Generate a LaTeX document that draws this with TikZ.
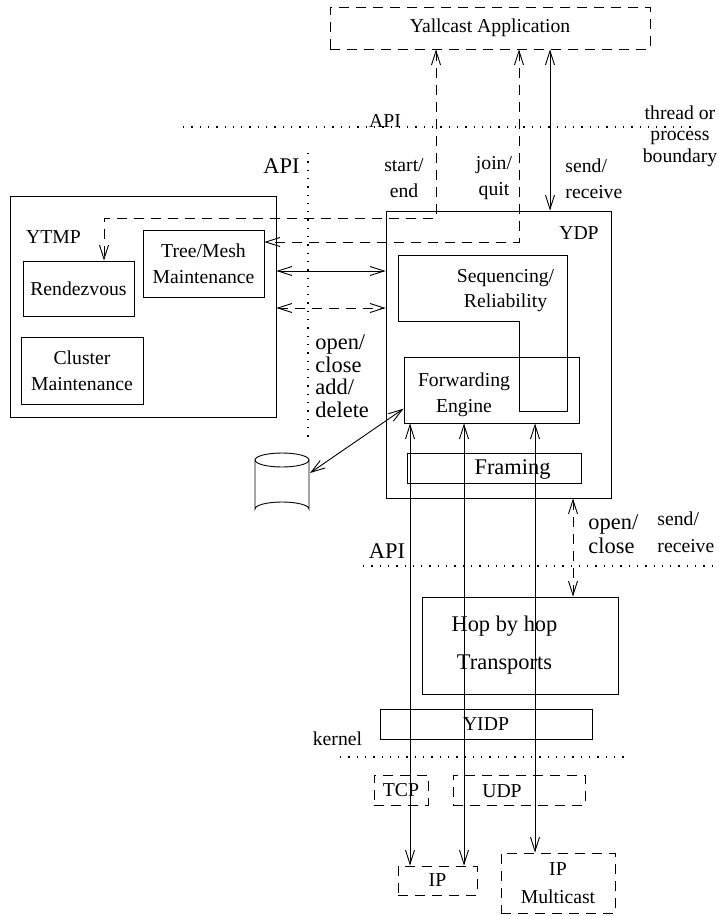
\documentclass[tikz,border=0pt]{standalone}
\usepackage{fontspec}
\setmainfont{Liberation Serif}
\usetikzlibrary{arrows.meta,positioning}
\newcommand{\nsize}{\fontsize{19.7}{26}\selectfont}
\newcommand{\lsize}{\fontsize{22.4}{24}\selectfont}

\begin{document}
\begin{tikzpicture}[x=1pt,y=-1pt,line width=0.9pt,
    >={Straight Barb[length=14pt,width=9pt]},
    every node/.style={font=\nsize,align=center},
    box/.style={draw,inner sep=0pt},
    dbox/.style={draw,inner sep=0pt,dash pattern=on 10pt off 7pt},
    dline/.style={dash pattern=on 10pt off 7pt},
    dots/.style={line width=1.3pt,dash pattern=on 1.3pt off 7pt},
    big/.style={font=\lsize}]
    \useasboundingbox (0,0) rectangle (719,916);

    \node[dbox,minimum width=320pt,minimum height=42pt] (app) at (490,28) {Yallcast Application};

    \node[box,minimum width=266pt,minimum height=221pt] (ytmp) at (143,306.5) {};
    \node at (53.5,237.5) {YTMP};
    \node[box,minimum width=121pt,minimum height=67pt] (tm) at (203.5,263.5) {Tree/Mesh\\Maintenance};
    \node[box,minimum width=111pt,minimum height=55pt] (rv) at (78.5,288.5) {Rendezvous};
    \node[box,minimum width=122pt,minimum height=67pt] (cm) at (82,370.5) {Cluster\\Maintenance};

    \node[box,minimum width=225pt,minimum height=287pt] (ydp) at (498.5,354.5) {};
    \node at (579,233) {YDP};
    \draw (398,255) -- (567,255) -- (567,411) -- (519,411) -- (519,321) -- (398,321) -- cycle;
    \node[font=\fontsize{19.7}{25}\selectfont] at (505.5,291) {Sequencing/\\Reliability};
    \node[box,minimum width=175pt,minimum height=66pt] (fe) at (491.5,390) {};
    \node at (464,394.5) {Forwarding\\Engine};
    \node[box,minimum width=174pt,minimum height=30pt] (fr) at (494,468) {};
    \node[big] at (512.5,469) {Framing};

    \node[box,minimum width=196pt,minimum height=97pt] (hop) at (520,645.5) {};
    \node[font=\fontsize{22.4}{38}\selectfont] at (504.5,645.5) {Hop by hop\\Transports};
    \node[box,minimum width=212pt,minimum height=30pt] (yidp) at (486,724) {YIDP};

    \node[dbox,minimum width=54pt,minimum height=30pt] (tcp) at (401,790) {TCP};
    \node[dbox,minimum width=132pt,minimum height=30pt] (udp) at (519,790) {};
    \node at (502,791.5) {UDP};
    \node[dbox,minimum width=79pt,minimum height=29pt] (ip) at (437.5,880.5) {IP};
    \node[dbox,minimum width=114pt,minimum height=60pt,font=\fontsize{19.7}{28}\selectfont] (ipm) at (558,883) {IP\\Multicast};

    \draw (255,460) -- (255,509) arc[start angle=180,end angle=360,x radius=27,y radius=7] -- (309,460);
    \draw (282,460) ellipse[x radius=27,y radius=7];
    \coordinate (db) at (310,473);

    \draw[dots] (183,127) -- (697,127);
    \draw[dots] (308,153) -- (308,437);
    \draw[dots] (363,566) -- (719,566);
    \draw[dots] (340,757) -- (627,757);

    \node at (385,121) {API};
    \node[font=\fontsize{19.7}{21.5}\selectfont] at (680,136) {thread or\\process\\boundary};
    \node[big] at (281.5,166.5) {API};
    \node at (404,178.5) {start/\\end};
    \node at (494,178.5) {join/\\quit};
    \node[anchor=west,align=left,inner sep=0pt] at (565,178.5) {send/\\receive};
    \node[anchor=west,align=left,inner sep=0pt,font=\fontsize{22.4}{22.5}\selectfont] at (315,376) {open/\\close\\add/\\delete};
    \node[anchor=west,align=left,inner sep=0pt,big] at (588,534) {open/\\close};
    \node[anchor=west,align=left,inner sep=0pt,font=\fontsize{19.7}{27}\selectfont] at (657,532.5) {send/\\receive};
    \node[big] at (387,551.5) {API};
    \node at (337.5,738.5) {kernel};

    \coordinate (se) at (436,218);
    \coordinate (se2) at (104,218);
    \draw[dline,<->] (app.south -| se) -- (se) -- (se2) -- (rv.north -| se2);
    \coordinate (jq) at (519,242);
    \draw[dline,<->] (app.south -| jq) -- (jq) -- (tm.east |- jq);
    \coordinate (sr) at (550,0);
    \draw[<->] (app.south -| sr) -- (ydp.north -| sr);
    \coordinate (c1) at (0,271);
    \draw[<->] (ytmp.east |- c1) -- (ydp.west |- c1);
    \coordinate (c2) at (0,308);
    \draw[dline,<->] (ytmp.east |- c2) -- (ydp.west |- c2);
    \draw[<->] (fe.192) -- (db);
    \foreach \xx/\tg in {410/ip,464/ip,535/ipm}
      \draw[<->] (fe.south -| \xx,0) -- (\tg.north -| \xx,0);
    \coordinate (oc) at (573,0);
    \draw[dline,<->] (ydp.south -| oc) -- (hop.north -| oc);
  \end{tikzpicture}
\end{document}
